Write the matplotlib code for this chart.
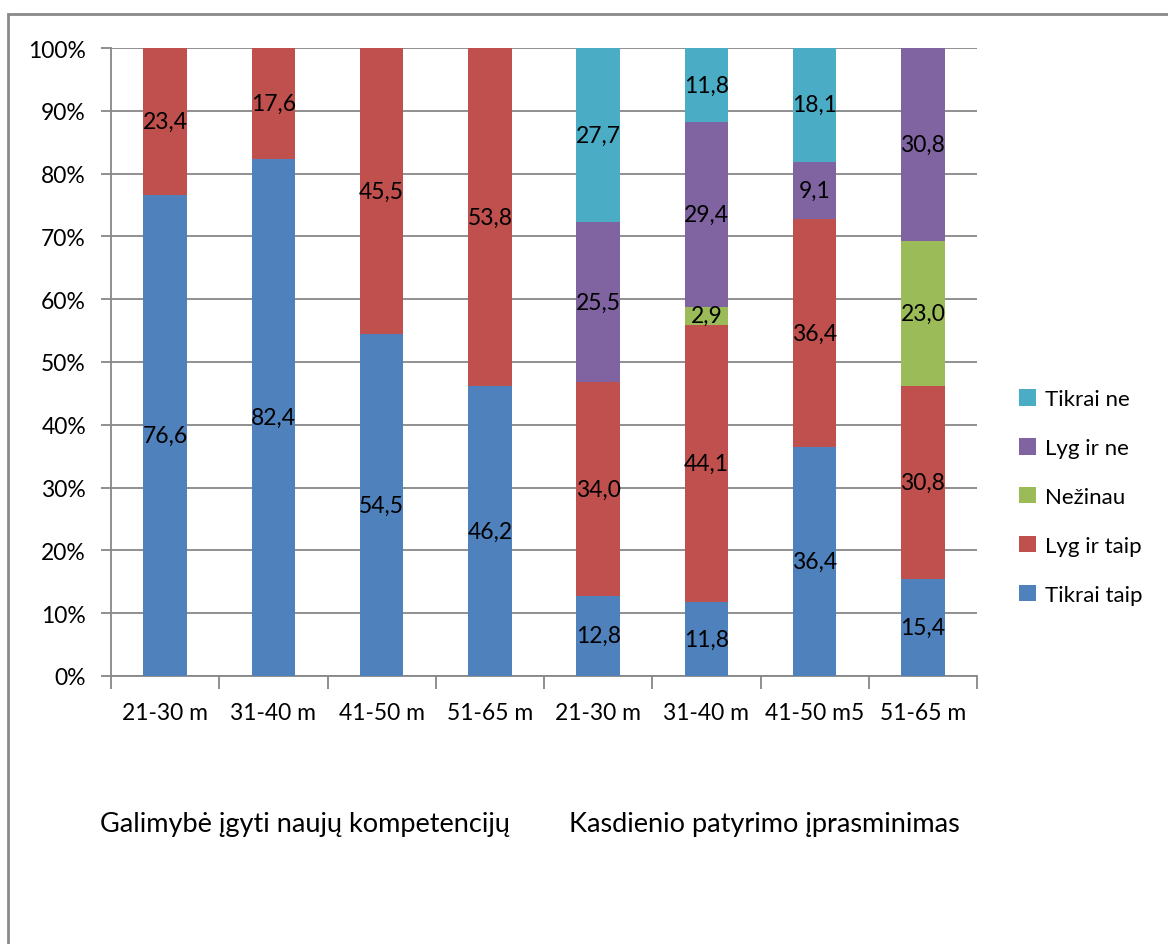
import matplotlib
matplotlib.use("Agg")
import matplotlib.pyplot as plt
from matplotlib.patches import Rectangle, Patch
import numpy as np

plt.rcParams['font.family'] = ['Lato', 'DejaVu Sans']

categories = ["21-30 m", "31-40 m", "41-50 m", "51-65 m",
              "21-30 m", "31-40 m", "41-50 m5", "51-65 m"]
group_labels = ["Galimybė įgyti naujų kompetencijų", "Kasdienio patyrimo įprasminimas"]

series_names = ["Tikrai taip", "Lyg ir taip", "Nežinau", "Lyg ir ne", "Tikrai ne"]
tikrai_taip = [76.6, 82.4, 54.5, 46.2, 12.8, 11.8, 36.4, 15.4]
lyg_ir_taip = [23.4, 17.6, 45.5, 53.8, 34.0, 44.1, 36.4, 30.8]
nezinau     = [0.0, 0.0, 0.0, 0.0, 0.0, 2.9, 0.0, 23.0]
lyg_ir_ne   = [0.0, 0.0, 0.0, 0.0, 25.5, 29.4, 9.1, 30.8]
tikrai_ne   = [0.0, 0.0, 0.0, 0.0, 27.7, 11.8, 18.1, 0.0]

series = [tikrai_taip, lyg_ir_taip, nezinau, lyg_ir_ne, tikrai_ne]
colors = ["#4F81BD", "#C0504D", "#9BBB59", "#8064A2", "#4BACC6"]

W, H = 1168, 945
fig = plt.figure(figsize=(W / 100, H / 100), dpi=100)
ax = fig.add_axes([111 / W, 1 - 677 / H, (977 - 111) / W, (677 - 49) / H])

FS = 16.5
grid_col = "#878787"
x = np.arange(len(categories))
bottom = np.zeros(len(categories))
for vals, col, name in zip(series, colors, series_names):
    vals = np.array(vals)
    ax.bar(x, vals, width=0.4, bottom=bottom, color=col, label=name, zorder=3)
    for xi, v, b in zip(x, vals, bottom):
        if v > 0:
            ax.text(xi, b + v / 2, f"{v:.1f}".replace(".", ","), ha="center",
                    va="center", fontsize=FS, color="black", zorder=4)
    bottom += vals

ax.set_xlim(-0.5, len(categories) - 0.5)
ax.set_ylim(0, 100)
ax.set_yticks(np.arange(0, 101, 10))
ax.set_yticklabels([f"{t}%" for t in range(0, 101, 10)], fontsize=FS)
ax.yaxis.grid(True, color=grid_col, linewidth=1.3, zorder=0)

ax.set_xticks(np.arange(-0.5, len(categories), 1.0))
ax.set_xticklabels([])
ax.set_xticks(x, minor=True)
ax.set_xticklabels(categories, minor=True, fontsize=FS)
ax.tick_params(axis="x", which="major", length=9, color=grid_col, width=1.3)
ax.tick_params(axis="x", which="minor", length=0, pad=19)
ax.tick_params(axis="y", length=7, color=grid_col, width=1.3, pad=11)

for s in ["top", "right"]:
    ax.spines[s].set_visible(False)
for s in ["left", "bottom"]:
    ax.spines[s].set_color(grid_col)
    ax.spines[s].set_linewidth(1.3)

# group captions under the category labels
ax.text(1.29, -23.5, group_labels[0], ha="center", va="center", fontsize=19.5,
        transform=ax.transData, clip_on=False)
ax.text(5.54, -23.5, group_labels[1], ha="center", va="center", fontsize=19.5,
        transform=ax.transData, clip_on=False)

handles = [Patch(facecolor=c, label=n) for c, n in zip(colors, series_names)][::-1]
fig.legend(handles=handles, loc="center left", bbox_to_anchor=(1008 / W, 1 - 498 / H),
           frameon=False, fontsize=16, handlelength=0.75, handleheight=0.75,
           handletextpad=0.4, labelspacing=1.3, borderpad=0)

# chart outer border
fig.patches.append(Rectangle((8 / W, -0.1), 1.2, 1 - 15 / H + 0.1,
                             transform=fig.transFigure, fill=False,
                             edgecolor="#8A8A8A", linewidth=2))

fig.savefig("out.png", dpi=100)
